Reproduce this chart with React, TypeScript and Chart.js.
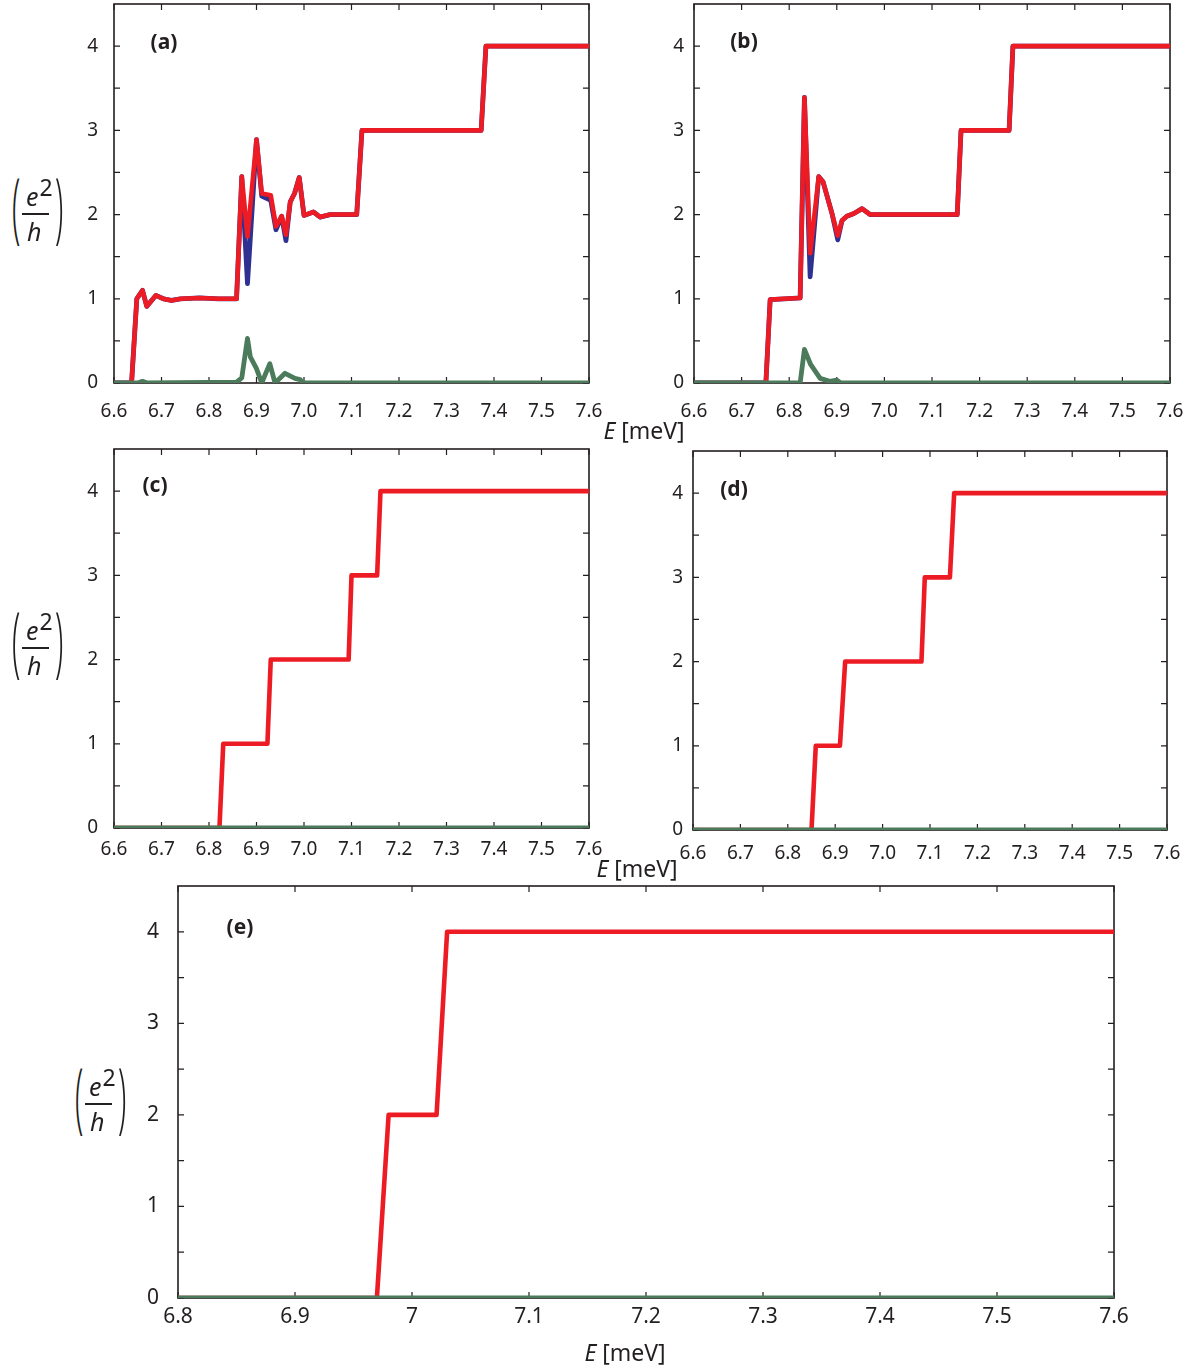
import React, { useEffect, useRef } from 'react';
import { Chart, registerables } from 'chart.js';

Chart.register(...registerables);

const FONT = "'Noto Sans', 'DejaVu Sans', sans-serif";
const INK = '#231F20';
const RED = '#ED1C24';
const BLUE = '#2E3192';
const GREEN = '#4B7B5B';

// ---------- tick values ----------
const xTicksAD = [6.6, 6.7, 6.8, 6.9, 7.0, 7.1, 7.2, 7.3, 7.4, 7.5, 7.6];
const xTicksE = [6.8, 6.9, 7.0, 7.1, 7.2, 7.3, 7.4, 7.5, 7.6];
const yTicks = [0, 0.5, 1, 1.5, 2, 2.5, 3, 3.5, 4];

// ---------- panel (a) ----------
const aE = [6.6, 6.637, 6.648, 6.66, 6.669, 6.688, 6.704, 6.721, 6.74, 6.78, 6.82, 6.858, 6.869, 6.881, 6.9, 6.911, 6.93, 6.941, 6.953, 6.962, 6.971, 6.98, 6.99, 7.0, 7.02, 7.034, 7.055, 7.111, 7.122, 7.373, 7.383, 7.6];
const aRed = [0, 0, 1.0, 1.1, 0.91, 1.04, 1.0, 0.98, 1.0, 1.01, 1.0, 1.0, 2.45, 1.74, 2.89, 2.25, 2.23, 1.86, 1.98, 1.76, 2.15, 2.25, 2.44, 1.99, 2.03, 1.97, 2.0, 2.0, 3.0, 3.0, 4.0, 4.0];
const aBlue = [0, 0, 1.0, 1.1, 0.91, 1.04, 1.0, 0.98, 1.0, 1.01, 1.0, 1.0, 2.45, 1.18, 2.89, 2.22, 2.17, 1.82, 1.98, 1.69, 2.15, 2.25, 2.44, 1.99, 2.03, 1.97, 2.0, 2.0, 3.0, 3.0, 4.0, 4.0];
const aGreenE = [6.6, 6.65, 6.66, 6.67, 6.858, 6.869, 6.881, 6.887, 6.9, 6.911, 6.928, 6.939, 6.96, 6.981, 6.992, 6.998, 7.6];
const aGreen = [0, 0, 0.02, 0, 0.01, 0.06, 0.53, 0.31, 0.17, 0, 0.23, 0, 0.115, 0.055, 0.04, 0, 0];

// ---------- panel (b) ----------
const bE = [6.6, 6.751, 6.76, 6.79, 6.823, 6.832, 6.844, 6.862, 6.871, 6.89, 6.902, 6.911, 6.921, 6.935, 6.953, 6.97, 7.153, 7.161, 7.262, 7.27, 7.6];
const bRed = [0, 0, 0.99, 1.0, 1.01, 3.39, 1.54, 2.45, 2.39, 2.01, 1.75, 1.93, 1.98, 2.01, 2.07, 2.0, 2.0, 3.0, 3.0, 4.0, 4.0];
const bBlue = [0, 0, 0.99, 1.0, 1.01, 3.39, 1.26, 2.45, 2.39, 2.01, 1.7, 1.93, 1.98, 2.01, 2.07, 2.0, 2.0, 3.0, 3.0, 4.0, 4.0];
const bGreenE = [6.6, 6.823, 6.832, 6.845, 6.865, 6.885, 6.9, 6.908, 7.6];
const bGreen = [0, 0, 0.4, 0.22, 0.055, 0.02, 0.035, 0, 0];

// ---------- panel (c) ----------
const cE = [6.6, 6.822, 6.83, 6.923, 6.93, 7.094, 7.1, 7.154, 7.161, 7.6];
const cRed = [0, 0, 1, 1, 2, 2, 3, 3, 4, 4];
const cGreenE = [6.6, 7.6];
const cGreen = [0, 0];

// ---------- panel (d) ----------
const dE = [6.6, 6.85, 6.859, 6.91, 6.921, 7.082, 7.089, 7.142, 7.151, 7.6];
const dRed = [0, 0, 1, 1, 2, 2, 3, 3, 4, 4];
const dGreenE = [6.6, 7.6];
const dGreen = [0, 0];

// ---------- panel (e) ----------
const eE = [6.8, 6.97, 6.98, 7.021, 7.03, 7.6];
const eRed = [0, 0, 2, 2, 4, 4];
const eGreenE = [6.8, 7.6];
const eGreen = [0, 0];

type Frame = { l: number; t: number; r: number; b: number };
type Series = { xs: number[]; ys: number[]; color: string; width: number };

interface PanelSpec {
  frame: Frame;
  xMin: number;
  xMax: number;
  xTicks: number[];
  xFmt: (v: number) => string;
  fontSize: number;
  xPad: number;
  yPad: number;
  series: Series[]; // first = top
}

const PAD = { L: 80, T: 40, R: 40, B: 50 };

const pts = (xs: number[], ys: number[]) => xs.map((x, i) => ({ x, y: ys[i] }));

const frameTicksPlugin = {
  id: 'frameTicks',
  beforeDatasetsDraw(chart: any) {
    const { ctx, chartArea } = chart;
    const { left, right, top, bottom } = chartArea;
    const x = chart.scales.x;
    const y = chart.scales.y;
    ctx.save();
    ctx.strokeStyle = INK;
    ctx.lineWidth = 1.6;
    ctx.strokeRect(left, top, right - left, bottom - top);
    ctx.lineWidth = 1.2;
    const tl = 6;
    ctx.beginPath();
    for (const t of x.ticks) {
      const px = x.getPixelForValue(t.value);
      ctx.moveTo(px, bottom);
      ctx.lineTo(px, bottom - tl);
      ctx.moveTo(px, top);
      ctx.lineTo(px, top + tl);
    }
    for (const t of y.ticks) {
      const py = y.getPixelForValue(t.value);
      ctx.moveTo(left, py);
      ctx.lineTo(left + tl, py);
      ctx.moveTo(right, py);
      ctx.lineTo(right - tl, py);
    }
    ctx.stroke();
    ctx.restore();
  },
};

const fmtOne = (v: number) => v.toFixed(1);
const fmtShort = (v: number) => String(Number(v.toFixed(1)));

function Panel({ spec }: { spec: PanelSpec }) {
  const ref = useRef<HTMLCanvasElement | null>(null);
  const { frame } = spec;
  const w = frame.r - frame.l + PAD.L + PAD.R;
  const h = frame.b - frame.t + PAD.T + PAD.B;

  useEffect(() => {
    if (!ref.current) return;
    const font = { family: FONT, size: spec.fontSize };
    const noGrid = { display: false, drawTicks: false, tickLength: 0 };
    const hidden = {
      ticks: { display: false },
      grid: noGrid,
      border: { display: false },
    };
    const chart = new Chart(ref.current, {
      type: 'line',
      data: {
        datasets: spec.series.map((s) => ({
          data: pts(s.xs, s.ys),
          borderColor: s.color,
          backgroundColor: s.color,
          borderWidth: s.width,
          pointRadius: 0,
          tension: 0,
          fill: false,
          borderJoinStyle: 'round' as const,
        })),
      },
      options: {
        animation: false,
        responsive: false,
        maintainAspectRatio: false,
        events: [],
        layout: { padding: 0 },
        plugins: { legend: { display: false }, tooltip: { enabled: false } },
        scales: {
          x: {
            type: 'linear',
            position: 'bottom',
            min: spec.xMin,
            max: spec.xMax,
            afterBuildTicks: (s: any) => {
              s.ticks = spec.xTicks.map((v) => ({ value: v }));
            },
            afterFit: (s: any) => {
              s.height = PAD.B;
            },
            ticks: {
              callback: (v: any) => spec.xFmt(Number(v)),
              font,
              color: INK,
              padding: spec.xPad,
              maxRotation: 0,
              autoSkip: false,
            },
            grid: noGrid,
            border: { display: false },
          },
          y: {
            type: 'linear',
            position: 'left',
            min: 0,
            max: 4.5,
            afterBuildTicks: (s: any) => {
              s.ticks = yTicks.map((v) => ({ value: v }));
            },
            afterFit: (s: any) => {
              s.width = PAD.L;
            },
            ticks: {
              callback: (v: any) => (Number.isInteger(Number(v)) ? String(v) : ''),
              font,
              color: INK,
              padding: spec.yPad,
              autoSkip: false,
            },
            grid: noGrid,
            border: { display: false },
          },
          x2: {
            type: 'linear',
            position: 'top',
            min: spec.xMin,
            max: spec.xMax,
            afterFit: (s: any) => {
              s.height = PAD.T;
            },
            ...hidden,
          },
          y2: {
            type: 'linear',
            position: 'right',
            min: 0,
            max: 4.5,
            afterFit: (s: any) => {
              s.width = PAD.R;
            },
            ...hidden,
          },
        },
      } as any,
      plugins: [frameTicksPlugin],
    });
    return () => chart.destroy();
  }, []);

  return (
    <canvas
      ref={ref}
      width={w}
      height={h}
      style={{
        position: 'absolute',
        left: frame.l - PAD.L,
        top: frame.t - PAD.T,
        width: w,
        height: h,
      }}
    />
  );
}

const red = (xs: number[], ys: number[]): Series => ({ xs, ys, color: RED, width: 4.6 });
const blue = (xs: number[], ys: number[]): Series => ({ xs, ys, color: BLUE, width: 4.8 });
const green = (xs: number[], ys: number[]): Series => ({ xs, ys, color: GREEN, width: 4.8 });

const panels: PanelSpec[] = [
  {
    frame: { l: 114, t: 4, r: 589, b: 383 },
    xMin: 6.6, xMax: 7.6, xTicks: xTicksAD, xFmt: fmtOne, fontSize: 19, xPad: 17, yPad: 16,
    series: [green(aGreenE, aGreen), red(aE, aRed), blue(aE, aBlue)],
  },
  {
    frame: { l: 694, t: 4, r: 1170, b: 383 },
    xMin: 6.6, xMax: 7.6, xTicks: xTicksAD, xFmt: fmtOne, fontSize: 19, xPad: 17, yPad: 10,
    series: [green(bGreenE, bGreen), red(bE, bRed), blue(bE, bBlue)],
  },
  {
    frame: { l: 114, t: 449, r: 589, b: 828 },
    xMin: 6.6, xMax: 7.6, xTicks: xTicksAD, xFmt: fmtOne, fontSize: 19, xPad: 10, yPad: 16,
    series: [green(cGreenE, cGreen), red(cE, cRed)],
  },
  {
    frame: { l: 693, t: 451, r: 1167, b: 830 },
    xMin: 6.6, xMax: 7.6, xTicks: xTicksAD, xFmt: fmtOne, fontSize: 19, xPad: 12, yPad: 10,
    series: [green(dGreenE, dGreen), red(dE, dRed)],
  },
  {
    frame: { l: 178, t: 886, r: 1114, b: 1298 },
    xMin: 6.8, xMax: 7.6, xTicks: xTicksE, xFmt: fmtShort, fontSize: 21, xPad: 6, yPad: 19,
    series: [green(eGreenE, eGreen), red(eE, eRed)],
  },
];

const panelLabels = [
  { text: '(a)', x: 164, y: 41 },
  { text: '(b)', x: 744, y: 40 },
  { text: '(c)', x: 155, y: 484 },
  { text: '(d)', x: 734, y: 488 },
  { text: '(e)', x: 240, y: 926 },
];

const axisTitles = [
  { x: 644, y: 430 },
  { x: 637, y: 868 },
  { x: 625, y: 1352 },
];

const yLabelAnchors = [
  { bx: 22, by: 214 },
  { bx: 22, by: 648 },
  { bx: 85, by: 1104 },
];

const abs = (extra: React.CSSProperties): React.CSSProperties => ({
  position: 'absolute',
  margin: 0,
  padding: 0,
  whiteSpace: 'nowrap',
  color: INK,
  fontFamily: FONT,
  ...extra,
});

function YLabel({ bx, by }: { bx: number; by: number }) {
  const fs = 25;
  const pfs = 30;
  const parenStyle = (left: number): React.CSSProperties =>
    abs({
      left,
      top: by + 2 - 18.8,
      fontSize: pfs,
      lineHeight: `${pfs}px`,
      fontWeight: 300,
      transformOrigin: '50% 18.8px',
      transform: 'scaleY(2.55)',
    });
  return (
    <>
      <div style={parenStyle(bx - 10)}>(</div>
      <div style={parenStyle(bx + 33)}>)</div>
      <div style={abs({ left: bx, top: by - 0.8, width: 26.5, height: 1.6, background: INK })} />
      <div style={abs({ left: bx + 4, top: by - 8 - 0.888 * fs, fontSize: fs, lineHeight: `${fs}px`, fontStyle: 'italic' })}>
        e
      </div>
      <div style={abs({ left: bx + 17.5, top: by - 18 - 0.888 * 23, fontSize: 23, lineHeight: '23px' })}>2</div>
      <div style={abs({ left: bx + 5, top: by + 27 - 0.888 * fs, fontSize: fs, lineHeight: `${fs}px`, fontStyle: 'italic' })}>
        h
      </div>
    </>
  );
}

export default function App() {
  return (
    <div style={{ position: 'absolute', left: 0, top: 0, width: 1204, height: 1369, background: '#fff', overflow: 'hidden' }}>
      {panels.map((p, i) => (
        <Panel key={i} spec={p} />
      ))}
      {panelLabels.map((l) => (
        <div
          key={l.text}
          style={abs({
            left: l.x,
            top: l.y,
            transform: 'translate(-50%, -50%)',
            fontSize: 21,
            lineHeight: '21px',
            fontWeight: 700,
          })}
        >
          {l.text}
        </div>
      ))}
      {axisTitles.map((t, i) => (
        <div
          key={i}
          style={abs({ left: t.x, top: t.y, transform: 'translate(-50%, -50%)', fontSize: 23, lineHeight: '23px' })}
        >
          <span style={{ fontStyle: 'italic' }}>E</span> [meV]
        </div>
      ))}
      {yLabelAnchors.map((a, i) => (
        <YLabel key={i} bx={a.bx} by={a.by} />
      ))}
    </div>
  );
}
